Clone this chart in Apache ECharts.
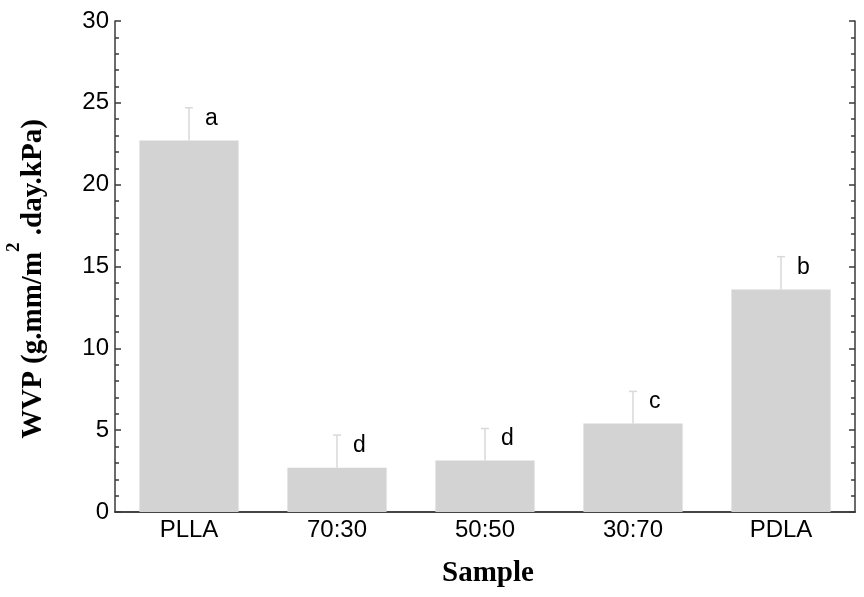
<!DOCTYPE html>
<html>
<head>
<meta charset="utf-8">
<script src="https://cdn.jsdelivr.net/npm/echarts@6/dist/echarts.min.js"></script>
<style>html,body{margin:0;padding:0;background:#fff}#c{width:864px;height:597px}</style>
</head>
<body>
<div id="c"></div>
<script>
const categories = ['PLLA', '70:30', '50:50', '30:70', 'PDLA'];
const wvpValues = [22.7, 2.7, 3.15, 5.4, 13.6];
const wvpErrors = [2.0, 2.0, 1.95, 1.97, 2.0];
const groupLetters = ['a', 'd', 'd', 'c', 'b'];
const yTicks = { min: 0, max: 30, interval: 5 };

const chart = echarts.init(document.getElementById('c'), null, { renderer: 'canvas' });
const sansFont = 'Liberation Sans, Arial, sans-serif';
const serifFont = 'Liberation Serif, Times New Roman, serif';
const axisColor = '#3a3a3a';

const errData = categories.map((c, i) => [i, wvpValues[i], wvpErrors[i]]);

const option = {
  animation: false,
  backgroundColor: '#fff',
  grid: { left: 115, right: 9, top: 21, bottom: 85 },
  xAxis: [
    {
      type: 'category', data: categories, position: 'bottom',
      axisLine: { lineStyle: { color: axisColor, width: 1.5 } },
      axisTick: { inside: true, length: 6, lineStyle: { color: axisColor, width: 1.5 } },
      axisLabel: { color: '#000', fontFamily: sansFont, fontSize: 24, margin: 6 }
    },
    {
      type: 'category', data: categories, position: 'top',
      axisLine: { show: true, lineStyle: { color: axisColor, width: 1.5 } },
      axisTick: { inside: true, length: 6, lineStyle: { color: axisColor, width: 1.5 } },
      axisLabel: { show: false }
    }
  ],
  yAxis: [
    {
      type: 'value', min: yTicks.min, max: yTicks.max, interval: yTicks.interval, position: 'left',
      axisLine: { show: true, lineStyle: { color: axisColor, width: 1.5 } },
      axisTick: { show: true, inside: true, length: 6, lineStyle: { color: axisColor, width: 1.5 } },
      minorTick: { show: true, splitNumber: 5, length: 4, lineStyle: { color: axisColor, width: 1.5 } },
      splitLine: { show: false },
      axisLabel: { color: '#000', fontFamily: sansFont, fontSize: 24, margin: 6 }
    },
    {
      type: 'value', min: yTicks.min, max: yTicks.max, interval: yTicks.interval, position: 'right',
      axisLine: { show: true, lineStyle: { color: axisColor, width: 1.5 } },
      axisTick: { show: true, inside: true, length: 6, lineStyle: { color: axisColor, width: 1.5 } },
      minorTick: { show: true, splitNumber: 5, length: 4, lineStyle: { color: axisColor, width: 1.5 } },
      splitLine: { show: false },
      axisLabel: { show: false }
    }
  ],
  graphic: [
    {
      type: 'text', x: 32, y: 279, rotation: Math.PI / 2,
      style: {
        text: '{b|WVP (g.mm/m}{s|2}{b| .day.kPa)}',
        align: 'center', verticalAlign: 'middle',
        rich: {
          b: { fontFamily: serifFont, fontWeight: 'bold', fontSize: 29, lineHeight: 32, verticalAlign: 'bottom', fill: '#000' },
          s: { fontFamily: serifFont, fontWeight: 'bold', fontSize: 19, lineHeight: 20, padding: [0, 0, 24, 0], verticalAlign: 'bottom', fill: '#000' }
        }
      }
    },
    {
      type: 'text', x: 488, y: 574,
      style: {
        text: 'Sample', fill: '#000',
        font: 'bold 29px ' + serifFont,
        align: 'center', verticalAlign: 'middle'
      }
    }
  ],
  series: [
    {
      type: 'bar', data: wvpValues, barCategoryGap: '33%',
      itemStyle: { color: '#d3d3d3' }, silent: true
    },
    {
      type: 'custom', data: errData, encode: { x: 0, y: 1 }, z: 3,
      renderItem: function (params, api) {
        const i = api.value(0);
        const v = api.value(1);
        const e = api.value(2);
        const base = api.coord([i, v]);
        const top = api.coord([i, v + e]);
        const cw = 4;
        const ls = { stroke: '#d9d9d9', lineWidth: 1.5 };
        return {
          type: 'group',
          children: [
            { type: 'line', shape: { x1: base[0], y1: base[1], x2: top[0], y2: top[1] }, style: ls },
            { type: 'line', shape: { x1: top[0] - cw, y1: top[1], x2: top[0] + cw, y2: top[1] }, style: ls },
            {
              type: 'text', x: top[0] + 16, y: top[1] - 1,
              style: { text: groupLetters[params.dataIndex], fill: '#000', font: '23px ' + sansFont, align: 'left', verticalAlign: 'top' }
            }
          ]
        };
      }
    }
  ]
};
chart.setOption(option);
</script>
</body>
</html>
